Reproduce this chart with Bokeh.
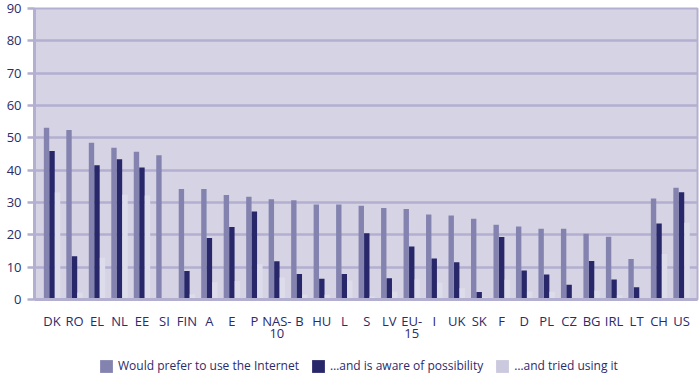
from bokeh.plotting import figure
from bokeh.layouts import column
from bokeh.models import (ColumnDataSource, Range1d, FixedTicker, Legend, LegendItem)
from bokeh.transform import dodge
from bokeh.embed import file_html
from bokeh.resources import INLINE

categories = ["DK", "RO", "EL", "NL", "EE", "SI", "FIN", "A", "E", "P", "NAS-\n10", "B", "HU", "L",
              "S", "LV", "EU-\n15", "I", "UK", "SK", "F", "D", "PL", "CZ", "BG", "IRL", "LT", "CH", "US"]
prefer = [53.1, 52.4, 48.5, 46.9, 45.7, 44.6, 34.2, 34.2, 32.3, 31.8, 31.0, 30.7, 29.4, 29.4,
          29.0, 28.3, 28.0, 26.3, 26.0, 25.0, 23.1, 22.6, 21.9, 21.9, 20.3, 19.4, 12.5, 31.2, 34.6]
aware = [45.9, 13.4, 41.5, 43.4, 40.8, 0.0, 8.8, 19.0, 22.4, 27.2, 11.8, 7.9, 6.4, 7.9,
         20.5, 6.6, 16.4, 12.7, 11.5, 2.3, 19.3, 9.0, 7.7, 4.6, 11.9, 6.2, 3.8, 23.5, 33.2]
tried = [33.1, 2.1, 12.9, 32.4, 32.2, 0.0, 1.6, 5.3, 5.7, 10.9, 6.8, 1.5, 1.5, 5.9,
         0.9, 2.4, 6.2, 5.2, 3.5, 0.7, 6.1, 2.5, 2.4, 0.5, 2.8, 1.3, 0.3, 14.1, 23.7]
series_labels = ["Would prefer to use the Internet", "\u2026and is aware of possibility",
                 "\u2026and tried using it"]
series_colors = ["#8483b0", "#27276a", "#dddcea"]
legend_swatch_colors = ["#8483b0", "#27276a", "#cac9de"]
y_ticks = [0, 10, 20, 30, 40, 50, 60, 70, 80, 90]

xs = list(range(len(categories)))
src = ColumnDataSource(dict(x=xs, prefer=prefer, aware=aware, tried=tried))

TEXT = "#2b2b6b"
GRID = "#b3afd1"
FONT = "Open Sans"

p = figure(width=700, height=345, output_backend="svg", toolbar_location=None,
           x_range=Range1d(-0.78, 28.71), y_range=Range1d(0, 90),
           min_border_left=34, min_border_right=3, min_border_top=8, min_border_bottom=43)
p.background_fill_color = "#d6d4e4"
p.border_fill_color = "white"
p.outline_line_color = GRID
p.outline_line_width = 2

w = 0.24
p.vbar(x=dodge("x", -0.245, range=p.x_range), top="prefer", width=w, source=src,
       fill_color=series_colors[0], line_color=None)
p.vbar(x=dodge("x", 0.0, range=p.x_range), top="aware", width=w, source=src,
       fill_color=series_colors[1], line_color=None)
p.vbar(x=dodge("x", 0.245, range=p.x_range), top="tried", width=w, source=src,
       fill_color=series_colors[2], line_color=None)

p.xgrid.visible = False
p.ygrid.grid_line_color = GRID
p.ygrid.grid_line_width = 2.5
p.ygrid.ticker = FixedTicker(ticks=y_ticks)

p.yaxis.ticker = FixedTicker(ticks=y_ticks)
p.yaxis.axis_line_color = GRID
p.yaxis.axis_line_width = 3
p.yaxis.major_tick_line_color = GRID
p.yaxis.major_tick_line_width = 2.5
p.yaxis.major_tick_out = 7
p.yaxis.major_tick_in = 0
p.yaxis.minor_tick_line_color = None
p.yaxis.major_label_standoff = 6
p.yaxis.major_label_text_font = FONT
p.yaxis.major_label_text_font_size = "13px"
p.yaxis.major_label_text_color = TEXT

p.xaxis.ticker = FixedTicker(ticks=xs)
p.xaxis.major_label_overrides = {i: c for i, c in enumerate(categories)}
p.xaxis.axis_line_color = GRID
p.xaxis.axis_line_width = 3
p.xaxis.major_tick_line_color = None
p.xaxis.minor_tick_line_color = None
p.xaxis.major_tick_out = 0
p.xaxis.major_tick_in = 0
p.xaxis.major_label_standoff = 12
p.xaxis.major_label_text_font = FONT
p.xaxis.major_label_text_font_size = "13px"
p.xaxis.major_label_text_color = TEXT
p.xaxis.major_label_text_line_height = 0.7

# legend strip (swatch renderers sit outside the visible range)
lg = figure(width=700, height=30, output_backend="svg", toolbar_location=None,
            x_range=Range1d(0, 1), y_range=Range1d(0, 1),
            min_border_left=0, min_border_right=0, min_border_top=0, min_border_bottom=0)
lg.axis.visible = False
lg.grid.visible = False
lg.outline_line_color = None
lg.background_fill_color = "white"
lg.border_fill_color = "white"
items = []
for lab, col in zip(series_labels, legend_swatch_colors):
    rr = lg.vbar(x=[-5], top=[-5], width=0.1, fill_color=col, line_color=None)
    items.append(LegendItem(label=lab, renderers=[rr]))
legend = Legend(items=items, orientation="horizontal", location=(64, 1))
legend.label_text_font = FONT
legend.label_text_font_size = "12px"
legend.label_text_color = TEXT
legend.glyph_width = 16
legend.glyph_height = 16
legend.label_standoff = 4
legend.spacing = 11
legend.padding = 2
legend.margin = 0
legend.border_line_color = None
legend.background_fill_alpha = 0
lg.add_layout(legend, "center")

layout = column(p, lg, spacing=0)
open("out.html", "w").write(file_html(layout, INLINE))
